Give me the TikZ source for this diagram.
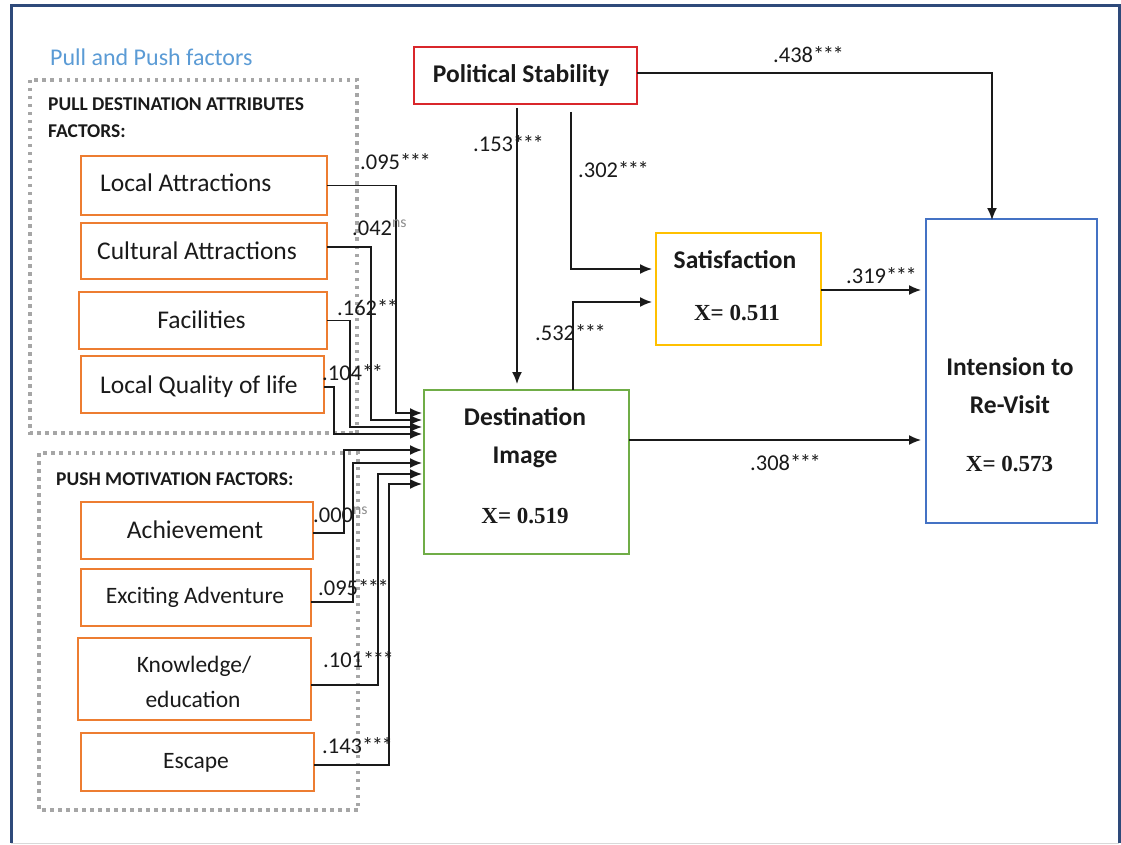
\documentclass[tikz,border=0pt]{standalone}
\usepackage{fontspec}
\setmainfont{Carlito}
\newfontfamily\numfont{Liberation Serif}
\usetikzlibrary{arrows.meta}

\definecolor{framec}{HTML}{2E4A7A}
\definecolor{pullc}{HTML}{ED7D31}
\definecolor{imgc}{HTML}{70AD47}
\definecolor{satc}{HTML}{FFC000}
\definecolor{intc}{HTML}{4472C4}
\definecolor{polc}{HTML}{D9262B}
\definecolor{grpc}{HTML}{A6A6A6}
\definecolor{titlec}{HTML}{5B9BD5}
\definecolor{inkc}{HTML}{1A1A1A}

% tighter asterisks for significance marks
\newcommand{\stars}[1]{\ifcase#1\or*\or*\kern-1.5pt*\or*\kern-1.5pt*\kern-1.5pt*\fi}

\begin{document}
\begin{tikzpicture}[x=1pt,y=-1pt,
  box/.style={draw, rectangle, line width=1.6pt, inner sep=0pt, outer sep=0pt},
  factor/.style={box, draw=pullc},
  group/.style={draw=grpc, line width=3.5pt, dash pattern=on 3.5pt off 4.5pt},
  ftxt/.style={inner sep=0pt, anchor=base, text=inkc, font=\fontsize{25.5}{30}\selectfont},
  stxt/.style={ftxt, font=\fontsize{23.5}{28}\selectfont},
  btxt/.style={ftxt, font=\fontsize{25.5}{30}\selectfont\bfseries},
  xtxt/.style={ftxt, font=\fontsize{23}{28}\selectfont\numfont\bfseries},
  head/.style={inner sep=0pt, anchor=base west, text=inkc, font=\fontsize{19.5}{24}\selectfont\bfseries},
  coef/.style={inner sep=0pt, anchor=base west, text=inkc, font=\fontsize{22.5}{26}\selectfont},
  arr/.style={draw=inkc, line width=1.5pt, -{Latex[length=12pt,width=10pt]}}
]
\useasboundingbox (0,0) rectangle (1121,845);

% outer frame
\draw[framec, line width=3pt] (11,843) -- (11,6) -- (1119,6) -- (1119,843);
\draw[black!15, line width=1.5pt] (11,843.5) -- (1119,843.5);

% group title and dotted group frames
\node[inner sep=0pt, anchor=base west, text=titlec, font=\fontsize{24}{28}\selectfont] (title) at (50,66) {Pull and Push factors};
\draw[group] (30,80) rectangle (357,433);
\draw[group] (39,453) rectangle (358,810);
\node[head] (pullhead1) at (48,111) {PULL DESTINATION ATTRIBUTES};
\node[head] (pullhead2) at (48,138) {FACTORS:};
\node[head] (pushhead) at (56,485) {PUSH MOTIVATION FACTORS:};

% pull factors
\node[factor, minimum width=246pt, minimum height=59pt] (la) at (204,185.5) {};
\node[factor, minimum width=246pt, minimum height=56pt] (ca) at (204,251) {};
\node[factor, minimum width=248pt, minimum height=57pt] (fa) at (203,320.5) {};
\node[factor, minimum width=243pt, minimum height=57pt] (lq) at (202.5,384.5) {};
\node[ftxt, anchor=base west] (la-t) at (100,192) {Local Attractions};
\node[ftxt, anchor=base west] (ca-t) at (97,259) {Cultural Attractions};
\node[ftxt] (fa-t) at (201.5,328) {Facilities};
\node[ftxt, anchor=base west] (lq-t) at (100,393) {Local Quality of life};

% push factors
\node[factor, minimum width=232pt, minimum height=57pt] (ac) at (197,530.5) {};
\node[factor, minimum width=230pt, minimum height=57pt] (ea) at (196,597.5) {};
\node[factor, minimum width=233pt, minimum height=82pt] (ke) at (194.5,679) {};
\node[factor, minimum width=233pt, minimum height=58pt] (es) at (197.5,762) {};
\node[ftxt] (ac-t) at (195,538) {Achievement};
\node[stxt] (ea-t) at (195,603) {Exciting Adventure};
\node[stxt] (ke-t1) at (194,672) {Knowledge/};
\node[stxt] (ke-t2) at (193,707) {education};
\node[stxt] (es-t) at (196,768) {Escape};

% constructs
\node[box, draw=polc, minimum width=223pt, minimum height=57pt] (ps) at (525.5,75.5) {};
\node[btxt] (ps-t) at (521,83) {Political Stability};

\node[box, draw=imgc, minimum width=205pt, minimum height=164pt] (di) at (526.5,472) {};
\node[btxt] (di-t1) at (525,425) {Destination};
\node[btxt] (di-t2) at (525,463) {Image};
\node[xtxt] (di-x) at (525,523) {X= 0.519};

\node[box, draw=satc, minimum width=165pt, minimum height=112pt] (sa) at (738.5,289) {};
\node[btxt] (sa-t) at (735,268) {Satisfaction};
\node[xtxt] (sa-x) at (737,320) {X= 0.511};

\node[box, draw=intc, minimum width=171pt, minimum height=304pt] (ir) at (1011.5,371) {};
\node[btxt] (ir-t1) at (1010,375) {Intension to};
\node[btxt] (ir-t2) at (1010,413) {Re-Visit};
\node[xtxt] (ir-x) at (1009.5,471) {X= 0.573};

% entry points on the left side of Destination Image
\coordinate (in1) at ([xshift=-2pt,yshift=59pt]di.west);
\coordinate (in2) at ([xshift=-2pt,yshift=52pt]di.west);
\coordinate (in3) at ([xshift=-2pt,yshift=45pt]di.west);
\coordinate (in4) at ([xshift=-2pt,yshift=38pt]di.west);
\coordinate (in5) at ([xshift=-2pt,yshift=22pt]di.west);
\coordinate (in6) at ([xshift=-2pt,yshift=9pt]di.west);
\coordinate (in7) at ([xshift=-2pt,yshift=-2pt]di.west);
\coordinate (in8) at ([xshift=-2pt,yshift=-12pt]di.west);

% factor paths
\draw[arr] (la.east) -- ++(69,0) |- (in1);
\draw[arr] ([yshift=4pt]ca.east) -- ++(44,0) |- (in2);
\draw[arr] (fa.east) -- ++(23,0) |- (in3);
\draw[arr] ([yshift=-2.5pt]lq.east) -- ++(10,0) |- (in4);
\draw[arr] ([yshift=-2.5pt]ac.east) -- ++(31,0) |- (in5);
\draw[arr] ([yshift=-4.5pt]ea.east) -- ++(42,0) |- (in6);
\draw[arr] ([yshift=-6pt]ke.east) -- ++(67,0) |- (in7);
\draw[arr] ([yshift=-3pt]es.east) -- ++(75,0) |- (in8);

% construct paths
\draw[arr] ([yshift=2.5pt]ps.east) -| ([xshift=-19.5pt,yshift=-1pt]ir.north);
\draw[arr] ([xshift=-8.5pt,yshift=-4pt]ps.south) -- ([xshift=-9.5pt,yshift=6pt]di.north);
\draw[arr] ([xshift=45.5pt,yshift=-8pt]ps.south) |- ([xshift=-4pt,yshift=20pt]sa.west);
\draw[arr] ([xshift=46.5pt]di.north) |- ([xshift=-4pt,yshift=-13pt]sa.west);
\draw[arr] ([yshift=-1pt]sa.east) -- ([xshift=-5pt,yshift=-1pt]sa.east -| ir.west);
\draw[arr] ([yshift=32pt]di.east) -- ([xshift=-5pt,yshift=32pt]di.east -| ir.west);

% path coefficients
\node[coef] (c-ps-ir) at (773,63) {.438\stars3};
\node[coef] (c-ps-di) at (473,152) {.153\stars3};
\node[coef] (c-ps-sa) at (578,178) {.302\stars3};
\node[coef] (c-di-sa) at (535,340) {.532\stars3};
\node[coef] (c-sa-ir) at (846,283) {.319\stars3};
\node[coef] (c-di-ir) at (750,470) {.308\stars3};
\node[coef] (c-la) at (360,170) {.095\stars3};
\node[coef] (c-ca) at (352,235) {.042\textsuperscript{\color{black!45}ns}};
\node[coef] (c-fa) at (337,315) {.162\stars2};
\node[coef] (c-lq) at (322,380) {.104\stars2};
\node[coef] (c-ac) at (313,522) {.000\textsuperscript{\color{black!45}ns}};
\node[coef] (c-ea) at (318,595) {.095\stars3};
\node[coef] (c-ke) at (323,667) {.101\stars3};
\node[coef] (c-es) at (322,753) {.143\stars3};
\end{tikzpicture}
\end{document}
